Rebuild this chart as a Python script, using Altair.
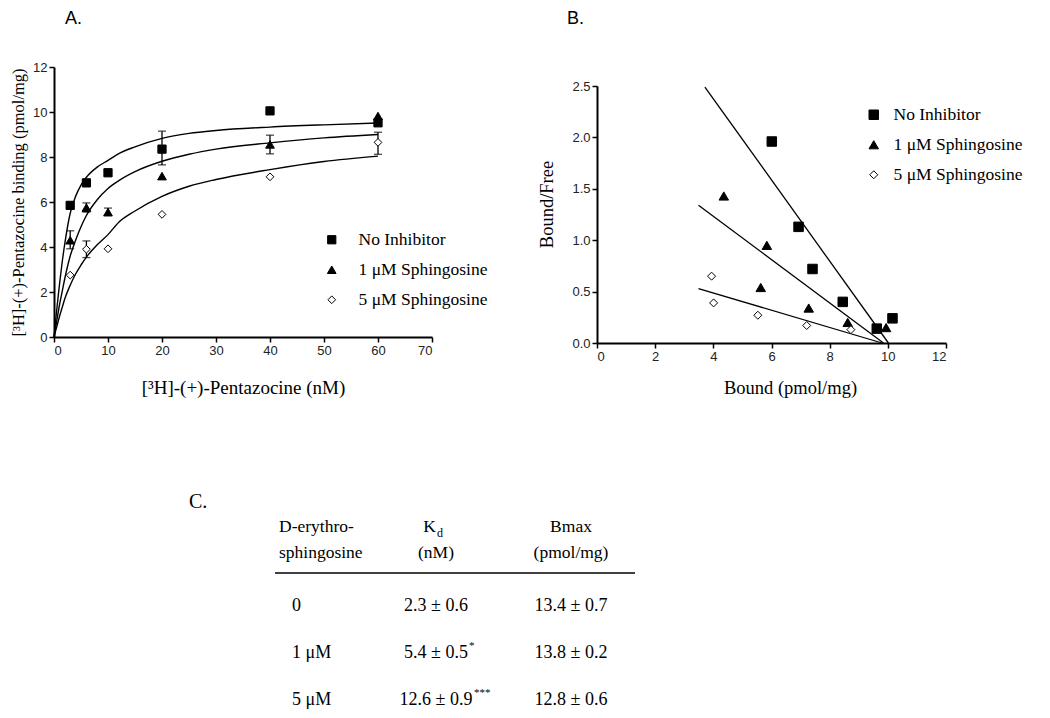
import altair as alt
import pandas as pd

SERIES = ["No Inhibitor", "1 μM Sphingosine", "5 μM Sphingosine"]
SHAPES = ["square", "triangle-up", "diamond"]
FILLS = ["black", "black", "white"]
STROKES = ["black", "black", "black"]

# ---------------- Panel A: saturation binding ----------------
A_conc = [3, 6, 10, 20, 40, 60]
A_bound_none = [5.85, 6.85, 7.3, 8.35, 10.05, 9.52]
A_bound_1uM = [4.3, 5.75, 5.55, 7.15, 8.56, 9.82]
A_bound_5uM = [2.75, 3.9, 3.92, 5.45, 7.12, 8.65]

A_err_series = ["No Inhibitor", "1 μM Sphingosine", "1 μM Sphingosine", "1 μM Sphingosine",
                "1 μM Sphingosine", "5 μM Sphingosine", "5 μM Sphingosine"]
A_err_conc = [20, 3, 6, 10, 40, 6, 60]
A_err_low = [7.65, 3.92, 5.55, 5.40, 8.14, 3.53, 8.12]
A_err_high = [9.15, 4.72, 5.96, 5.73, 8.97, 4.27, 9.10]

A_fit_conc = [0, 0.5, 1, 1.5, 2, 3, 4, 5, 6, 8, 10, 12, 15, 20, 25, 30, 40, 50, 60]
A_fit_none = [0, 1.2, 2.3, 3.3, 4.15, 5.5, 6.25, 6.75, 7.1, 7.55, 7.85, 8.15, 8.45, 8.83, 9.05, 9.18, 9.33, 9.43, 9.51]
A_fit_1uM = [0, 0.7, 1.4, 2.0, 2.6, 3.6, 4.3, 4.9, 5.4, 6.1, 6.6, 6.95, 7.35, 7.81, 8.12, 8.35, 8.63, 8.85, 9.0]
A_fit_5uM = [0, 0.45, 0.9, 1.3, 1.7, 2.3, 2.8, 3.2, 3.55, 4.1, 4.55, 5.1, 5.6, 6.25, 6.7, 7.0, 7.44, 7.8, 8.04]

# ---------------- Panel B: Scatchard ----------------
B_none_bound = [6.01, 6.93, 7.41, 8.45, 9.62, 10.16]
B_none_bf = [1.96, 1.13, 0.72, 0.40, 0.14, 0.24]
B_1uM_bound = [4.36, 5.84, 5.63, 7.28, 8.62, 9.94]
B_1uM_bf = [1.43, 0.95, 0.54, 0.34, 0.20, 0.15]
B_5uM_bound = [3.94, 4.01, 5.53, 7.21, 8.73]
B_5uM_bf = [0.65, 0.39, 0.27, 0.17, 0.13]

B_line_x_start = [3.71, 3.49, 3.49]
B_line_y_start = [2.49, 1.34, 0.53]
B_line_x_end = [10.02, 9.85, 9.80]
B_line_y_end = [0.0, 0.0, 0.0]

# ---------------- Panel C: table ----------------
C_cols = ["c1", "c2", "c3"]
C_head_rows = ["h1", "h2"]
C_head1 = ["D-erythro-", "K", "Bmax"]
C_head1_sub = "d"
C_head2 = ["sphingosine", "(nM)", "(pmol/mg)"]
C_conc = ["0", "1 μM", "5 μM"]
C_kd = ["2.3 ± 0.6", "5.4 ± 0.5", "12.6 ± 0.9"]
C_kd_sig = ["", "*", "***"]
C_bmax = ["13.4 ± 0.7", "13.8 ± 0.2", "12.8 ± 0.6"]

SERIF = "Liberation Serif"
SANS = "Liberation Sans"

# ---------- data frames ----------
ptsA = pd.DataFrame({
    "series": [SERIES[0]] * 6 + [SERIES[1]] * 6 + [SERIES[2]] * 6,
    "x": A_conc * 3,
    "y": A_bound_none + A_bound_1uM + A_bound_5uM,
})
fitA = pd.DataFrame({
    "series": [SERIES[0]] * len(A_fit_conc) + [SERIES[1]] * len(A_fit_conc) + [SERIES[2]] * len(A_fit_conc),
    "x": A_fit_conc * 3,
    "y": A_fit_none + A_fit_1uM + A_fit_5uM,
})
errA = pd.DataFrame({"series": A_err_series, "x": A_err_conc, "low": A_err_low, "high": A_err_high})
capA = pd.DataFrame({"x": A_err_conc * 2, "y": A_err_low + A_err_high})

ptsB = pd.DataFrame({
    "series": [SERIES[0]] * len(B_none_bound) + [SERIES[1]] * len(B_1uM_bound) + [SERIES[2]] * len(B_5uM_bound),
    "x": B_none_bound + B_1uM_bound + B_5uM_bound,
    "y": B_none_bf + B_1uM_bf + B_5uM_bf,
})
lineB = pd.DataFrame({"series": SERIES, "x1": B_line_x_start, "y1": B_line_y_start,
                      "x2": B_line_x_end, "y2": B_line_y_end})

# ---------- scales & axes ----------
xA = alt.Scale(domain=[0, 70], range=[46, 424], nice=False, zero=False)
yA = alt.Scale(domain=[0, 12], range=[329, 59], nice=False, zero=False)
axA_x = alt.Axis(orient="bottom", offset=-373, values=list(range(0, 71, 10)),
                 title="[³H]-(+)-Pentazocine (nM)", titlePadding=21)
axA_y = alt.Axis(orient="left", offset=-46, values=list(range(0, 13, 2)),
                 title="[³H]-(+)-Pentazocine binding (pmol/mg)", titleFontSize=16.5, titlePadding=6)

xB = alt.Scale(domain=[0, 12], range=[589, 938], nice=False, zero=False)
yB = alt.Scale(domain=[0, 2.5], range=[335, 78], nice=False, zero=False)
axB_x = alt.Axis(orient="bottom", offset=-367, values=list(range(0, 13, 2)),
                 title="Bound (pmol/mg)", titleFontSize=18.5, titlePadding=15, titleX=782)
axB_y = alt.Axis(orient="left", offset=-589, values=[0, 0.5, 1.0, 1.5, 2.0, 2.5], format=".1f",
                 title="Bound/Free", titleFontSize=18.5, titlePadding=15, titleY=196)


def legend(x, y, off):
    return alt.Legend(orient="none", legendX=x, legendY=y, title=None, padding=0,
                      labelFont=SERIF, labelFontSize=17.5, labelColor="black", labelOffset=off,
                      rowPadding=11, symbolStrokeColor="black", symbolStrokeWidth=1, labelLimit=400)


def points(df, xs, ys, ax, ay, sizes, leg):
    return alt.Chart(df).mark_point(strokeWidth=1, opacity=1, fillOpacity=1, strokeOpacity=1).encode(
        x=alt.X("x:Q", scale=xs, axis=ax),
        y=alt.Y("y:Q", scale=ys, axis=ay),
        shape=alt.Shape("series:N", scale=alt.Scale(domain=SERIES, range=SHAPES), legend=leg),
        fill=alt.Fill("series:N", scale=alt.Scale(domain=SERIES, range=FILLS), legend=leg),
        stroke=alt.Stroke("series:N", scale=alt.Scale(domain=SERIES, range=STROKES), legend=leg),
        size=alt.Size("series:N", scale=alt.Scale(type="ordinal", domain=SERIES, range=sizes), legend=leg),
    )


curvesA = alt.Chart(fitA).mark_line(color="black", strokeWidth=1.4, interpolate="monotone").encode(
    x=alt.X("x:Q", scale=xA, axis=axA_x),
    y=alt.Y("y:Q", scale=yA, axis=axA_y),
    detail="series:N",
)
barsA = alt.Chart(errA).mark_rule(color="black", strokeWidth=1.3).encode(
    x=alt.X("x:Q", scale=xA, axis=axA_x),
    y=alt.Y("low:Q", scale=yA, axis=axA_y),
    y2="high:Q",
)
capsA = alt.Chart(capA).mark_tick(color="black", orient="horizontal", size=8, thickness=1.3).encode(
    x=alt.X("x:Q", scale=xA, axis=axA_x),
    y=alt.Y("y:Q", scale=yA, axis=axA_y),
)
pointsA = points(ptsA, xA, yA, axA_x, axA_y, [68, 76, 60], legend(315, 223, 18))
panelA = alt.layer(curvesA, barsA, capsA, pointsA)

linesB = alt.Chart(lineB).mark_rule(color="black", strokeWidth=1.3).encode(
    x=alt.X("x1:Q", scale=xB, axis=axB_x),
    y=alt.Y("y1:Q", scale=yB, axis=axB_y),
    x2="x2:Q",
    y2="y2:Q",
)
pointsB = points(ptsB, xB, yB, axB_x, axB_y, [90, 90, 64], legend(857, 98, 11))
panelB = alt.layer(linesB, pointsB)

# ---------- table ----------
colX = alt.Scale(type="point", domain=C_cols, range=[293, 563], padding=0)
headY = alt.Scale(type="point", domain=C_head_rows, range=[519, 545], padding=0)
bodyY = alt.Scale(type="point", domain=C_conc, range=[598, 692], padding=0)

head_df = pd.DataFrame({
    "col": C_cols * 2,
    "row": ["h1"] * 3 + ["h2"] * 3,
    "text": C_head1 + C_head2,
})


def head_text(df, size=17.5, **mk):
    return alt.Chart(df).mark_text(font=SERIF, fontSize=size, color="black", baseline="middle", **mk).encode(
        x=alt.X("col:N", scale=colX, axis=None),
        y=alt.Y("row:N", scale=headY, axis=None),
        text="text:N",
    )


h_left = head_text(head_df[head_df["col"] == "c1"], align="left", dx=-22)
h_center = head_text(head_df[(head_df["col"] != "c1") & (head_df["text"] != "K")], align="center")
h_k = head_text(head_df[head_df["text"] == "K"], align="right", dx=0)
h_sub = head_text(pd.DataFrame({"col": ["c2"], "row": ["h1"], "text": [C_head1_sub]}),
                  size=12, align="left", dx=1, dy=6)
header = alt.layer(h_left, h_center, h_k, h_sub)

body_df = pd.DataFrame({
    "col": ["c1"] * 3 + ["c2"] * 3 + ["c3"] * 3,
    "row": C_conc * 3,
    "text": C_conc + C_kd + C_bmax,
})
sig_df = pd.DataFrame({"col": ["c2"] * 3, "row": C_conc, "text": C_kd_sig})


def body_text(df, size=18, **mk):
    return alt.Chart(df).mark_text(font=SERIF, fontSize=size, color="black", baseline="middle", **mk).encode(
        x=alt.X("col:N", scale=colX, axis=None),
        y=alt.Y("row:N", scale=bodyY, axis=None),
        text="text:N",
    )


b_left = body_text(body_df[body_df["col"] == "c1"], align="left", dx=-9)
b_center = body_text(body_df[body_df["col"] != "c1"], align="center")
b_sig1 = body_text(sig_df[sig_df["text"] == "*"], size=11, align="left", dx=33, dy=-7)
b_sig3 = body_text(sig_df[sig_df["text"] == "***"], size=11, align="left", dx=38, dy=-7)
body = alt.layer(b_left, b_center, b_sig1, b_sig3)

one = pd.DataFrame({"k": [0]})
rule = alt.Chart(one).mark_rule(color="black", strokeWidth=1.6).encode(
    x=alt.value(267), x2=alt.value(627), y=alt.value(565))

lblA = alt.Chart(one).mark_text(text="A.", font=SANS, fontSize=18, align="left", baseline="middle",
                                color="black").encode(x=alt.value(57), y=alt.value(11))
lblB = alt.Chart(one).mark_text(text="B.", font=SANS, fontSize=18, align="left", baseline="middle",
                                color="black").encode(x=alt.value(559), y=alt.value(11))
lblC = alt.Chart(one).mark_text(text="C.", font=SERIF, fontSize=20, align="left", baseline="middle",
                                color="black").encode(x=alt.value(181), y=alt.value(494))

chart = alt.layer(panelA, panelB, header, body, rule, lblA, lblB, lblC).resolve_scale(
    x="independent", y="independent", shape="independent", fill="independent",
    stroke="independent", size="independent"
).resolve_axis(x="independent", y="independent").resolve_legend(
    shape="independent", fill="independent", stroke="independent", size="independent"
).properties(
    width=1034, height=702, autosize=alt.AutoSizeParams(type="none"), padding=0
).configure_view(stroke=None).configure_axis(
    grid=False, domainColor="black", domainWidth=2, tickColor="black", tickWidth=1.5, tickSize=5,
    labelFont=SANS, labelFontSize=13, labelColor="#222", labelPadding=2,
    titleFont=SERIF, titleFontWeight="normal", titleFontSize=19, titleColor="black",
)

chart.save("out.html", embed_options={"renderer": "svg", "actions": False})
